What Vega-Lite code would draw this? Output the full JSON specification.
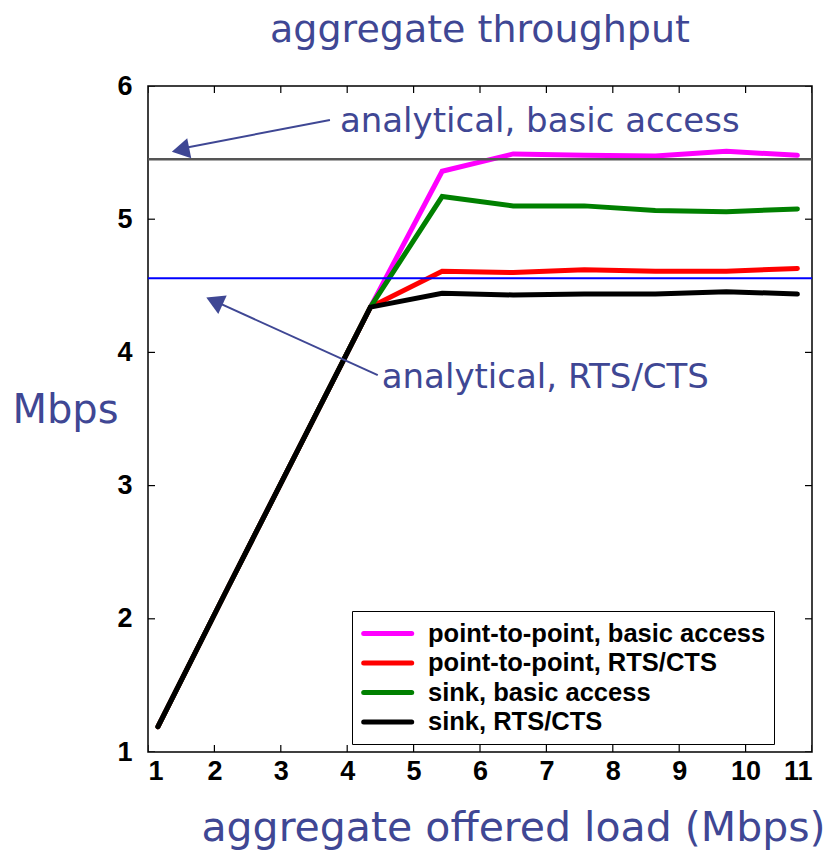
{
  "$schema": "https://vega.github.io/schema/vega-lite/v6.json",
  "autosize": "none",
  "width": 664,
  "height": 666,
  "padding": {"left": 148, "top": 86, "right": 17, "bottom": 102},
  "background": "white",
  "config": {
    "view": {"stroke": "black", "strokeWidth": 1.5},
    "axis": {"grid": false, "domain": false, "ticks": false, "labelFont": "Liberation Sans", "labelFontWeight": "bold", "labelFontSize": 27, "labelColor": "black", "titleFont": "DejaVu Sans", "titleFontWeight": "normal", "titleFontSize": 41, "titleColor": "#3f4794"}
  },
  "title": {"text": "aggregate throughput", "font": "DejaVu Sans", "fontSize": 38, "fontWeight": "normal", "color": "#3f4794", "anchor": "middle", "offset": 22},
  "datasets": {
    "series": [
      {"load": 1.15, "tput": 1.19, "series": "point-to-point, basic access"},
      {"load": 2.22, "tput": 2.25, "series": "point-to-point, basic access"},
      {"load": 3.29, "tput": 3.3, "series": "point-to-point, basic access"},
      {"load": 4.35, "tput": 4.34, "series": "point-to-point, basic access"},
      {"load": 5.43, "tput": 5.36, "series": "point-to-point, basic access"},
      {"load": 6.5, "tput": 5.49, "series": "point-to-point, basic access"},
      {"load": 7.57, "tput": 5.48, "series": "point-to-point, basic access"},
      {"load": 8.64, "tput": 5.475, "series": "point-to-point, basic access"},
      {"load": 9.71, "tput": 5.51, "series": "point-to-point, basic access"},
      {"load": 10.78, "tput": 5.48, "series": "point-to-point, basic access"},
      {"load": 1.15, "tput": 1.19, "series": "point-to-point, RTS/CTS"},
      {"load": 2.22, "tput": 2.25, "series": "point-to-point, RTS/CTS"},
      {"load": 3.29, "tput": 3.3, "series": "point-to-point, RTS/CTS"},
      {"load": 4.35, "tput": 4.34, "series": "point-to-point, RTS/CTS"},
      {"load": 5.43, "tput": 4.61, "series": "point-to-point, RTS/CTS"},
      {"load": 6.5, "tput": 4.6, "series": "point-to-point, RTS/CTS"},
      {"load": 7.57, "tput": 4.62, "series": "point-to-point, RTS/CTS"},
      {"load": 8.64, "tput": 4.61, "series": "point-to-point, RTS/CTS"},
      {"load": 9.71, "tput": 4.61, "series": "point-to-point, RTS/CTS"},
      {"load": 10.78, "tput": 4.63, "series": "point-to-point, RTS/CTS"},
      {"load": 1.15, "tput": 1.19, "series": "sink, basic access"},
      {"load": 2.22, "tput": 2.25, "series": "sink, basic access"},
      {"load": 3.29, "tput": 3.3, "series": "sink, basic access"},
      {"load": 4.35, "tput": 4.34, "series": "sink, basic access"},
      {"load": 5.43, "tput": 5.17, "series": "sink, basic access"},
      {"load": 6.5, "tput": 5.1, "series": "sink, basic access"},
      {"load": 7.57, "tput": 5.1, "series": "sink, basic access"},
      {"load": 8.64, "tput": 5.065, "series": "sink, basic access"},
      {"load": 9.71, "tput": 5.056, "series": "sink, basic access"},
      {"load": 10.78, "tput": 5.077, "series": "sink, basic access"},
      {"load": 1.15, "tput": 1.19, "series": "sink, RTS/CTS"},
      {"load": 2.22, "tput": 2.25, "series": "sink, RTS/CTS"},
      {"load": 3.29, "tput": 3.3, "series": "sink, RTS/CTS"},
      {"load": 4.35, "tput": 4.34, "series": "sink, RTS/CTS"},
      {"load": 5.43, "tput": 4.444, "series": "sink, RTS/CTS"},
      {"load": 6.5, "tput": 4.431, "series": "sink, RTS/CTS"},
      {"load": 7.57, "tput": 4.438, "series": "sink, RTS/CTS"},
      {"load": 8.64, "tput": 4.438, "series": "sink, RTS/CTS"},
      {"load": 9.71, "tput": 4.456, "series": "sink, RTS/CTS"},
      {"load": 10.78, "tput": 4.438, "series": "sink, RTS/CTS"}
    ],
    "refs": [
      {"name": "analytical, basic access", "level": 5.45},
      {"name": "analytical, RTS/CTS", "level": 4.556}
    ],
    "arrows": [
      {"name": "analytical, basic access", "x1": 3.74, "y1": 5.745, "x2": 1.45, "y2": 5.525, "hx": 1.49, "hy": 5.52, "ang": 348.7, "tx": 3.89, "ty": 5.73},
      {"name": "analytical, RTS/CTS", "x1": 4.46, "y1": 3.83, "x2": 1.98, "y2": 4.39, "hx": 2.0, "hy": 4.385, "ang": 24.3, "tx": 4.52, "ty": 3.81}
    ],
    "xticks": [
      {"v": 1, "edge": 1}, {"v": 2, "edge": 1}, {"v": 3, "edge": 1}, {"v": 4, "edge": 1}, {"v": 5, "edge": 1}, {"v": 6, "edge": 1},
      {"v": 7, "edge": 1}, {"v": 8, "edge": 1}, {"v": 9, "edge": 1}, {"v": 10, "edge": 1}, {"v": 11, "edge": 1},
      {"v": 1, "edge": 6}, {"v": 2, "edge": 6}, {"v": 3, "edge": 6}, {"v": 4, "edge": 6}, {"v": 5, "edge": 6}, {"v": 6, "edge": 6},
      {"v": 7, "edge": 6}, {"v": 8, "edge": 6}, {"v": 9, "edge": 6}, {"v": 10, "edge": 6}, {"v": 11, "edge": 6}
    ],
    "yticks": [
      {"v": 1, "edge": 1}, {"v": 2, "edge": 1}, {"v": 3, "edge": 1}, {"v": 4, "edge": 1}, {"v": 5, "edge": 1}, {"v": 6, "edge": 1},
      {"v": 1, "edge": 11}, {"v": 2, "edge": 11}, {"v": 3, "edge": 11}, {"v": 4, "edge": 11}, {"v": 5, "edge": 11}, {"v": 6, "edge": 11}
    ]
  },
  "layer": [
    {
      "data": {"name": "series"},
      "mark": {"type": "line", "strokeWidth": 5, "strokeJoin": "miter", "strokeCap": "round", "clip": true},
      "encoding": {
        "x": {"field": "load", "type": "quantitative", "scale": {"domain": [1, 11], "nice": false, "zero": false},
          "axis": {"orient": "bottom", "values": [1,2,3,4,5,6,7,8,9,10,11], "format": "d", "labelPadding": 6, "title": "aggregate offered load (Mbps)", "titleX": 365, "titleY": 76, "titleBaseline": "middle", "titleAlign": "center"}},
        "y": {"field": "tput", "type": "quantitative", "scale": {"domain": [1, 6], "nice": false, "zero": false},
          "axis": {"orient": "left", "values": [1,2,3,4,5,6], "format": "d", "labelPadding": 16, "title": "Mbps", "titleFontSize": 40, "titleAngle": 0, "titleX": -83, "titleY": 324, "titleBaseline": "middle", "titleAlign": "center"}},
        "color": {"field": "series", "type": "nominal",
          "scale": {"domain": ["point-to-point, basic access", "point-to-point, RTS/CTS", "sink, basic access", "sink, RTS/CTS"], "range": ["#ff00ff", "#ff0000", "#008000", "#000000"]},
          "legend": {"orient": "none", "legendX": 204, "legendY": 525, "title": null, "symbolType": "M-0.9,0H3.1", "symbolStrokeWidth": 5, "symbolSize": 576, "rowPadding": 1.5, "labelFont": "Liberation Sans", "labelFontWeight": "bold", "labelFontSize": 25.5, "labelColor": "black", "strokeColor": "black", "fillColor": "white", "padding": 8, "labelOffset": 39, "labelLimit": 500,
            "encode": {"symbols": {"update": {"strokeCap": {"value": "round"}}}}}}
      }
    },
    {
      "data": {"name": "refs"},
      "mark": {"type": "rule"},
      "encoding": {
        "y": {"field": "level", "type": "quantitative", "axis": {"orient": "right", "values": [1,2,3,4,5,6], "labels": false, "title": null}},
        "color": {"field": "name", "type": "nominal", "scale": {"domain": ["analytical, basic access", "analytical, RTS/CTS"], "range": ["#555555", "#0000ff"]}, "legend": null},
        "strokeWidth": {"field": "name", "type": "nominal", "scale": {"domain": ["analytical, basic access", "analytical, RTS/CTS"], "range": [2.5, 2]}, "legend": null}
      }
    },
    {
      "data": {"name": "arrows"},
      "mark": {"type": "rule", "color": "#3f4794", "strokeWidth": 2},
      "encoding": {
        "x": {"field": "x1", "type": "quantitative", "axis": {"orient": "top", "values": [1,2,3,4,5,6,7,8,9,10,11], "labels": false, "title": null}},
        "y": {"field": "y1", "type": "quantitative", "axis": null},
        "x2": {"field": "x2"},
        "y2": {"field": "y2"}
      }
    },
    {
      "data": {"name": "arrows"},
      "mark": {"type": "point", "shape": "triangle-left", "filled": true, "color": "#3f4794", "size": 420, "opacity": 1},
      "encoding": {
        "x": {"field": "hx", "type": "quantitative", "axis": null},
        "y": {"field": "hy", "type": "quantitative", "axis": null},
        "angle": {"field": "ang", "type": "quantitative", "scale": null}
      }
    },
    {
      "data": {"name": "arrows"},
      "mark": {"type": "text", "font": "DejaVu Sans", "fontSize": 34, "color": "#3f4794", "align": "left", "baseline": "middle"},
      "encoding": {
        "x": {"field": "tx", "type": "quantitative", "axis": null},
        "y": {"field": "ty", "type": "quantitative", "axis": null},
        "text": {"field": "name"}
      }
    },
    {
      "data": {"name": "xticks"},
      "mark": {"type": "tick", "orient": "vertical", "color": "black", "size": 14, "thickness": 1.2, "opacity": 1, "clip": true},
      "encoding": {
        "x": {"field": "v", "type": "quantitative", "axis": null},
        "y": {"field": "edge", "type": "quantitative", "axis": null}
      }
    },
    {
      "data": {"name": "yticks"},
      "mark": {"type": "tick", "orient": "horizontal", "color": "black", "size": 14, "thickness": 1.2, "opacity": 1, "clip": true},
      "encoding": {
        "x": {"field": "edge", "type": "quantitative", "axis": null},
        "y": {"field": "v", "type": "quantitative", "axis": null}
      }
    }
  ],
  "resolve": {"scale": {"color": "independent", "strokeWidth": "independent"}}
}
